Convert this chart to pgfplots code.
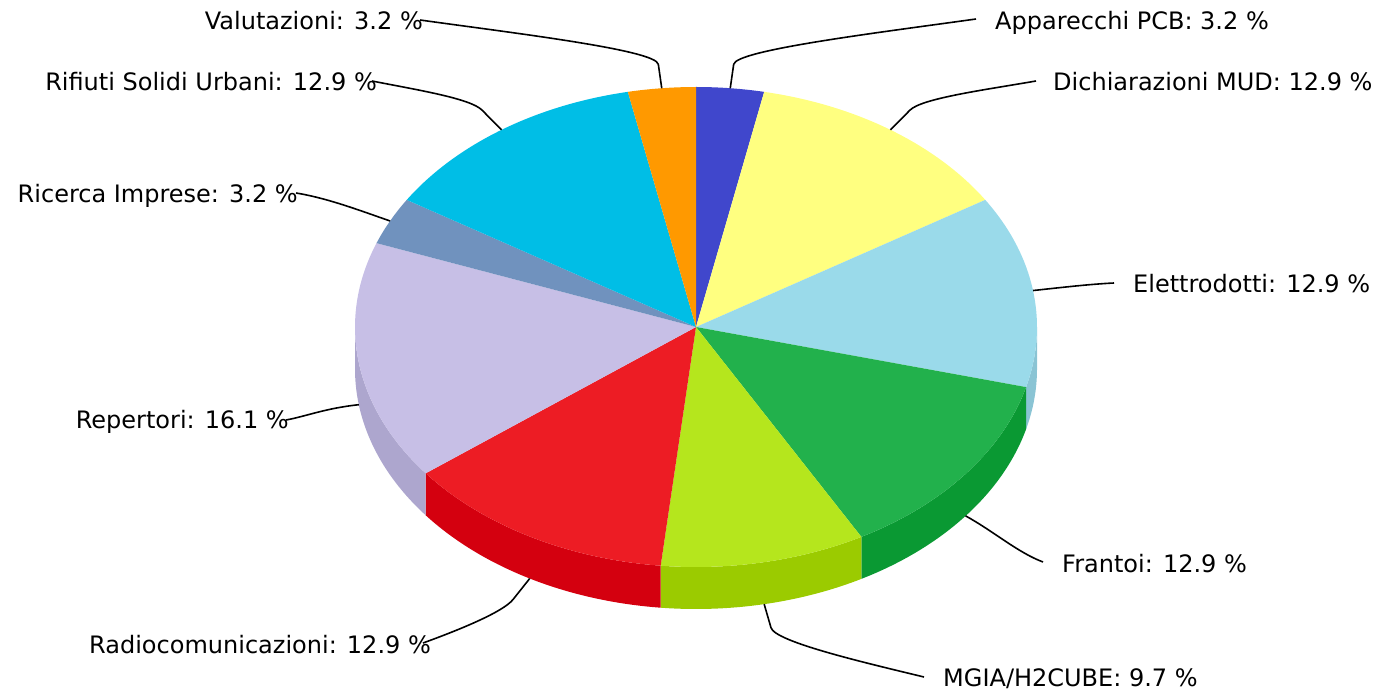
\documentclass[border=0pt]{standalone}
\usepackage{pgfplots}
\pgfplotsset{compat=1.18}
\usepackage{pgfplotstable}
\usepackage{fontspec}
\setmainfont{DejaVu Sans}

% top colours
\definecolor{tA}{HTML}{4047CC}
\definecolor{tB}{HTML}{FFFF80}
\definecolor{tC}{HTML}{9ADAEA}
\definecolor{tD}{HTML}{22B14C}
\definecolor{tE}{HTML}{B5E61D}
\definecolor{tF}{HTML}{ED1C24}
\definecolor{tG}{HTML}{C7BFE6}
\definecolor{tH}{HTML}{7092BE}
\definecolor{tI}{HTML}{00BEE6}
\definecolor{tJ}{HTML}{FF9900}
% side colours
\definecolor{sA}{HTML}{3038A8}
\definecolor{sB}{HTML}{D8D86A}
\definecolor{sC}{HTML}{8AC4D4}
\definecolor{sD}{HTML}{0A9933}
\definecolor{sE}{HTML}{9BCB00}
\definecolor{sF}{HTML}{D4000F}
\definecolor{sG}{HTML}{ADA6CE}
\definecolor{sH}{HTML}{5E7CA4}
\definecolor{sI}{HTML}{00A2C4}
\definecolor{sJ}{HTML}{D88200}

% name, percentage, colours, leader target (px), label anchor x and baseline (px)
\pgfplotstableread[col sep=comma]{
name,pct,top,side,tx,ty,lx,lb
Apparecchi PCB,3.2,tA,sA,976,19,995,30
Dichiarazioni MUD,12.9,tB,sB,1036,81,1053,91
Elettrodotti,12.9,tC,sC,1114,283,1133,293
Frantoi,12.9,tD,sD,1043,562,1062,572
MGIA/H2CUBE,9.7,tE,sE,924,677,943,686
Radiocomunicazioni,12.9,tF,sF,423,643,431,653
Repertori,16.1,tG,sG,286,420,289,429
Ricerca Imprese,3.2,tH,sH,296,193,298,203
Rifiuti Solidi Urbani,12.9,tI,sI,372,81,377,91
Valutazioni,3.2,tJ,sJ,420,20,423,30
}\piedata

\begin{document}
\begin{tikzpicture}
\begin{axis}[
  hide axis, scale only axis, clip=false,
  width=1387pt, height=691pt,
  xmin=0, xmax=1387, ymin=0, ymax=691,
]
% ---------- sides ----------
\def\startang{90}
\pgfplotsforeachungrouped \i in {0,...,9}{%
  \pgfplotstablegetelem{\i}{pct}\of\piedata \let\p\pgfplotsretval
  \pgfplotstablegetelem{\i}{side}\of\piedata \let\sc\pgfplotsretval
  \pgfmathsetmacro\endang{\startang-360*\p/99.9}
  \pgfmathsetmacro\aa{max(\endang,-180)}
  \pgfmathsetmacro\bb{min(\startang,0)}
  \pgfmathtruncatemacro\vis{\aa<\bb ? 1 : 0}
  \ifnum\vis=1
    \pgfmathsetmacro\pax{696+341*cos(\aa)}
    \pgfmathsetmacro\pay{364+240*sin(\aa)}
    \edef\cmd{\noexpand\fill[\sc] (axis cs:\pax,\pay) arc[start angle=\aa, end angle=\bb, x radius=341pt, y radius=240pt] -- ++(0pt,-42pt) arc[start angle=\bb, end angle=\aa, x radius=341pt, y radius=240pt] -- cycle;}%
    \cmd
  \fi
  \global\let\startang\endang
}
% ---------- tops ----------
\def\startang{90}
\pgfplotsforeachungrouped \i in {0,...,9}{%
  \pgfplotstablegetelem{\i}{pct}\of\piedata \let\p\pgfplotsretval
  \pgfplotstablegetelem{\i}{top}\of\piedata \let\tc\pgfplotsretval
  \pgfmathsetmacro\endang{\startang-360*\p/99.9}
  \pgfmathsetmacro\pax{696+341*cos(\startang)}
  \pgfmathsetmacro\pay{364+240*sin(\startang)}
  \edef\cmd{\noexpand\fill[\tc] (axis cs:696,364) -- (axis cs:\pax,\pay) arc[start angle=\startang, end angle=\endang, x radius=341pt, y radius=240pt] -- cycle;}%
  \cmd
  \global\let\startang\endang
}
% ---------- leaders and labels ----------
\def\startang{90}
\pgfplotsforeachungrouped \i in {0,...,9}{%
  \pgfplotstablegetelem{\i}{pct}\of\piedata \let\p\pgfplotsretval
  \pgfplotstablegetelem{\i}{name}\of\piedata \let\nm\pgfplotsretval
  \pgfplotstablegetelem{\i}{tx}\of\piedata \let\tx\pgfplotsretval
  \pgfplotstablegetelem{\i}{ty}\of\piedata \let\typx\pgfplotsretval
  \pgfplotstablegetelem{\i}{lx}\of\piedata \let\lx\pgfplotsretval
  \pgfplotstablegetelem{\i}{lb}\of\piedata \let\lbpx\pgfplotsretval
  \pgfmathsetmacro\endang{\startang-360*\p/99.9}
  \pgfmathsetmacro\m{(\startang+\endang)/2}
  \pgfmathsetmacro\ccy{sin(\m)<0 ? 322 : 364}
  \pgfmathsetmacro\ax{696+341*cos(\m)}
  \pgfmathsetmacro\ay{\ccy+240*sin(\m)}
  \pgfmathsetmacro\elx{696+1.1*341*cos(\m)}
  \pgfmathsetmacro\ely{\ccy+1.1*240*sin(\m)}
  \pgfmathsetmacro\ctwx{\elx+0.06*341*cos(\m)}
  \pgfmathsetmacro\ctwy{\ely+0.06*240*sin(\m)}
  \pgfmathsetmacro\tya{691-\typx}
  \pgfmathsetmacro\lba{691-\lbpx}
  \pgfmathtruncatemacro\isleft{\lx<696 ? 1 : 0}
  \pgfmathtruncatemacro\isshort{abs(\elx-\tx)<75 ? 1 : 0}
  \ifnum\isleft=1 \def\anc{base east}\else\def\anc{base west}\fi
  \ifnum\isshort=1
    \pgfmathsetmacro\conex{\tx+0.5*(\elx-\tx)}
    \pgfmathsetmacro\coney{\tya+0.3*(\ely-\tya)}
    \edef\cmd{\noexpand\draw[black, line width=1.6pt] (axis cs:\tx,\tya) .. controls (axis cs:\conex,\coney) and (axis cs:\elx,\ely) .. (axis cs:\ax,\ay);}%
  \else
    \pgfmathsetmacro\conex{\tx+0.4*(\elx-\tx)}
    \pgfmathsetmacro\coney{\tya+0.3*(\ely-\tya)}
    \edef\cmd{\noexpand\draw[black, line width=1.6pt] (axis cs:\tx,\tya) .. controls (axis cs:\conex,\coney) and (axis cs:\ctwx,\ctwy) .. (axis cs:\elx,\ely) -- (axis cs:\ax,\ay);}%
  \fi
  \cmd
  \edef\cmd{\noexpand\node[anchor=\anc, inner sep=0pt, font=\noexpand\fontsize{24}{28}\noexpand\selectfont] at (axis cs:\lx,\lba) {\nm: \p\noexpand~\noexpand\%};}%
  \cmd
  \global\let\startang\endang
}
\end{axis}
\pgfresetboundingbox
\useasboundingbox (0,0) rectangle (1387pt,691pt);
\end{tikzpicture}
\end{document}
